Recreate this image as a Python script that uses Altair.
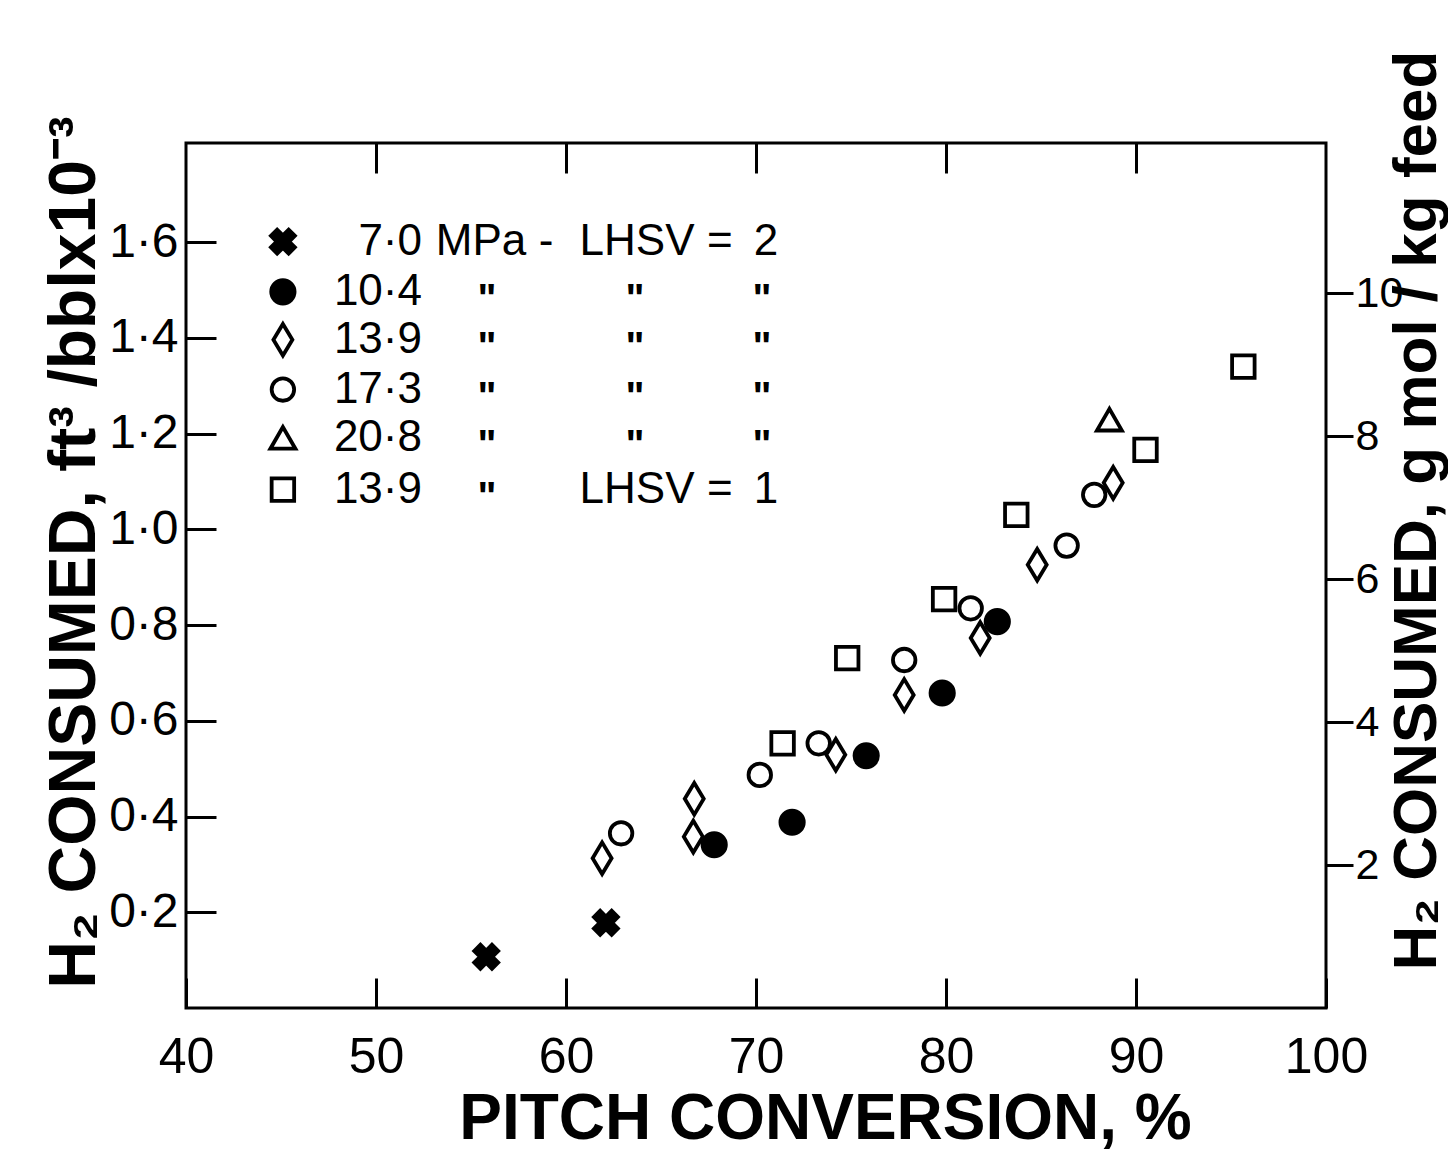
import altair as alt
import pandas as pd

# ---------------- data ----------------
series_keys = ["7.0 MPa LHSV 2", "10.4 MPa LHSV 2", "13.9 MPa LHSV 2",
               "17.3 MPa LHSV 2", "20.8 MPa LHSV 2", "13.9 MPa LHSV 1"]
legend_numbers = ["7·0", "10·4", "13·9", "17·3", "20·8", "13·9"]

x_7_0 = [55.8, 62.1]
y_7_0 = [0.107, 0.178]
x_10_4 = [67.8, 71.9, 75.8, 79.8, 82.7]
y_10_4 = [0.341, 0.388, 0.527, 0.658, 0.807]
x_13_9 = [61.9, 66.7, 66.75, 74.2, 77.8, 81.8, 84.8, 88.8]
y_13_9 = [0.313, 0.358, 0.437, 0.529, 0.654, 0.773, 0.926, 1.097]
x_17_3 = [62.9, 70.2, 73.3, 77.8, 81.3, 86.35, 87.8]
y_17_3 = [0.365, 0.487, 0.553, 0.727, 0.835, 0.966, 1.072]
x_20_8 = [88.6]
y_20_8 = [1.229]
x_13_9_l1 = [71.4, 74.8, 79.9, 83.7, 90.5, 95.65]
y_13_9_l1 = [0.553, 0.731, 0.854, 1.030, 1.166, 1.340]

x_ticks = [40, 50, 60, 70, 80, 90, 100]
x_inner_ticks = [50, 60, 70, 80, 90]
y_left_ticks = [0.2, 0.4, 0.6, 0.8, 1.0, 1.2, 1.4, 1.6]
y_right_ticks = [2, 4, 6, 8, 10]

x_title = "PITCH CONVERSION, %"
y_left_title = "H₂ CONSUMED, ft³ /bblx10⁻³"
y_right_title = "H₂ CONSUMED, g mol / kg feed"

# ---------------- annotation layout (legend written inside the plot) ----------------
legend_sym_x = 45.1
legend_row_y = [1.601, 1.496, 1.396, 1.292, 1.191, 1.083]
legend_num_x = 52.42
row1_words = ["MPa", "-", "LHSV", "=", "2"]
row1_words_x = [55.53, 58.95, 63.74, 68.1, 70.53]
row6_words = ["LHSV", "=", "1"]
row6_words_x = [63.74, 68.1, 70.53]
ditto_x = [55.84, 63.63, 70.32]

# ---------------- build tables ----------------
draw_order = [(3, x_17_3, y_17_3), (2, x_13_9, y_13_9), (1, x_10_4, y_10_4),
              (5, x_13_9_l1, y_13_9_l1), (4, x_20_8, y_20_8), (0, x_7_0, y_7_0)]
rows = []
for idx, xs_, ys_ in draw_order:
    for a, b in zip(xs_, ys_):
        rows.append({"x": a, "y": b, "series": series_keys[idx]})
pts_df = pd.DataFrame(rows)

leg_sym_df = pd.DataFrame({"x": [legend_sym_x] * 6, "y": legend_row_y, "series": series_keys})
leg_num_df = pd.DataFrame({"x": [legend_num_x] * 6, "y": legend_row_y, "t": legend_numbers})
words = [{"x": a, "y": legend_row_y[0], "t": w} for a, w in zip(row1_words_x, row1_words)]
words += [{"x": a, "y": legend_row_y[5], "t": w} for a, w in zip(row6_words_x, row6_words)]
words_df = pd.DataFrame(words)
ditto = []
for r in range(1, 5):
    for a in ditto_x:
        ditto.append({"x": a, "y": legend_row_y[r], "t": '"'})
ditto.append({"x": ditto_x[0], "y": legend_row_y[5], "t": '"'})
ditto_df = pd.DataFrame(ditto)

helper_df = pd.DataFrame({"hx": [40, 100], "hy": [0, 12.1]})

# ---------------- scales / axes ----------------
X_PATH = "M-1,-0.48L-0.48,-1L0,-0.52L0.48,-1L1,-0.48L0.52,0L1,0.48L0.48,1L0,0.52L-0.48,1L-1,0.48L-0.52,0Z"
DIAMOND_PATH = "M0,-1L0.6,0L0,1L-0.6,0Z"

xs = alt.Scale(domain=[40, 100], nice=False, zero=False)
ys = alt.Scale(domain=[0, 1.807], nice=False, zero=False)
shape_scale = alt.Scale(domain=series_keys,
                        range=[X_PATH, "circle", DIAMOND_PATH, "circle", "triangle-up", "square"])
fill_scale = alt.Scale(domain=series_keys,
                       range=["black", "black", "white", "white", "white", "white"])
size_scale = alt.Scale(type="ordinal", domain=series_keys,
                       range=[576, 545, 1000, 506, 625, 506])

LABEL_FONT = "Liberation Sans"
TITLE_FONT = "Liberation Sans"

x_axis = alt.Axis(values=x_ticks, format="d", orient="bottom", offset=-30, tickSize=30,
                  tickWidth=3, tickColor="black", domain=False, grid=False,
                  labelFont=LABEL_FONT, labelFontSize=50, labelColor="black",
                  labelPadding=24, labelFlush=False,
                  title=x_title, titleFont=TITLE_FONT, titleFontSize=64,
                  titleFontWeight="bold", titleColor="black",
                  titleX=639, titleY=141, titleAlign="center", titleBaseline="middle")
y_axis = alt.Axis(values=y_left_ticks, format=".1f", labelExpr="replace(datum.label, '.', '·')",
                  orient="left", offset=-30, tickSize=30, tickWidth=3, tickColor="black",
                  domain=False, grid=False, labelFont=LABEL_FONT, labelFontSize=48,
                  labelColor="black", labelPadding=8, labelFlush=False,
                  title=y_left_title, titleFont=TITLE_FONT, titleFontSize=66,
                  titleFontWeight="bold", titleColor="black", titleAngle=270,
                  titleX=-142, titleY=409, titleAlign="center", titleBaseline="middle")
top_axis = alt.Axis(values=x_inner_ticks, orient="top", offset=-30, tickSize=30, tickWidth=3,
                    tickColor="black", domain=False, grid=False, labels=False, title="")
right_axis = alt.Axis(values=y_right_ticks, format="d", orient="right", tickSize=27, tickWidth=3,
                      tickColor="black", domain=False, grid=False, labelFont=LABEL_FONT,
                      labelFontSize=43, labelColor="black", labelPadding=2, labelFlush=False,
                      title=y_right_title, titleFont=TITLE_FONT, titleFontSize=62,
                      titleFontWeight="bold", titleColor="black", titleAngle=270,
                      titleX=90, titleY=367, titleAlign="center", titleBaseline="middle")


def X():
    return alt.X("x:Q", scale=xs, axis=x_axis)


def Y():
    return alt.Y("y:Q", scale=ys, axis=y_axis)


point_kw = dict(stroke="black", strokeWidth=3.8, opacity=1, fillOpacity=1, strokeOpacity=1)
enc_kw = dict(
    shape=alt.Shape("series:N", scale=shape_scale, legend=None),
    fill=alt.Fill("series:N", scale=fill_scale, legend=None),
    size=alt.Size("series:N", scale=size_scale, legend=None),
)

pts = alt.Chart(pts_df).mark_point(**point_kw).encode(x=X(), y=Y(), **enc_kw)
leg_sym = alt.Chart(leg_sym_df).mark_point(**point_kw).encode(x=X(), y=Y(), **enc_kw)
leg_num = alt.Chart(leg_num_df).mark_text(font=LABEL_FONT, fontSize=44, align="right",
                                         baseline="middle", color="black").encode(
    x=X(), y=Y(), text="t:N")
leg_words = alt.Chart(words_df).mark_text(font=LABEL_FONT, fontSize=44, align="center",
                                          baseline="middle", color="black").encode(
    x=X(), y=Y(), text="t:N")
leg_ditto = alt.Chart(ditto_df).mark_text(font=LABEL_FONT, fontSize=40, fontWeight="bold",
                                          align="center", baseline="middle", dy=8,
                                          color="black").encode(x=X(), y=Y(), text="t:N")

inner = alt.layer(pts, leg_sym, leg_num, leg_words, leg_ditto)

helper = alt.Chart(helper_df).mark_point(opacity=0).encode(
    x=alt.X("hx:Q", scale=alt.Scale(domain=[40, 100], nice=False, zero=False), axis=top_axis),
    y=alt.Y("hy:Q", scale=alt.Scale(domain=[0, 12.1], nice=False, zero=False), axis=right_axis),
)

chart = alt.layer(inner, helper).resolve_scale(x="independent", y="independent").properties(
    width=1140, height=865,
    autosize=alt.AutoSizeParams(type="none"),
    padding={"left": 178, "top": 135, "right": 122, "bottom": 150},
    background="white",
).configure_view(stroke="black", strokeWidth=3)

chart.save("out.html", embed_options={"renderer": "svg", "actions": False})
